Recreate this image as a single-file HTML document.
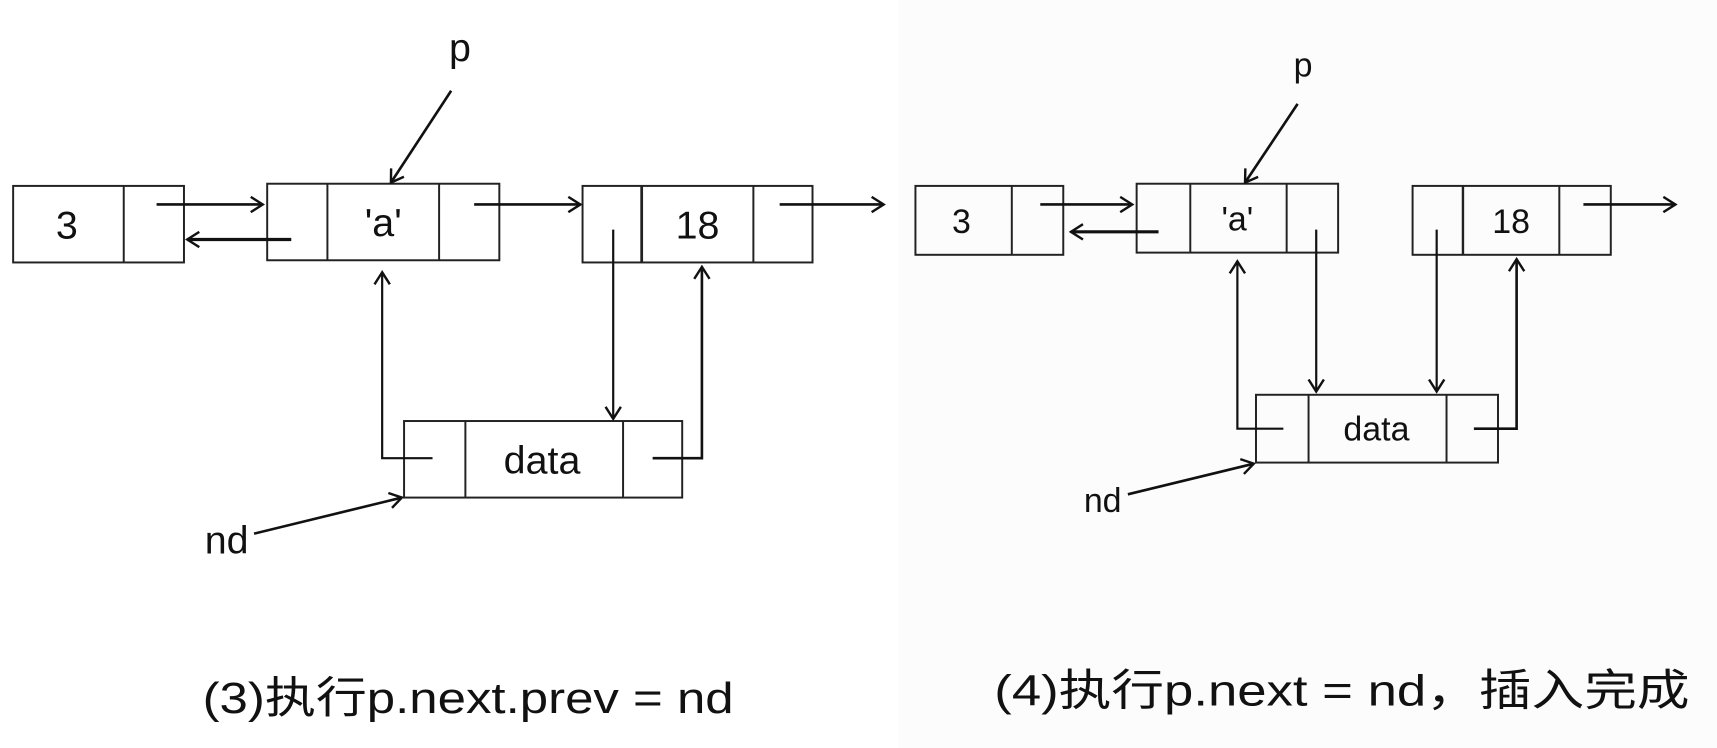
<!DOCTYPE html>
<html><head><meta charset="utf-8"><style>
html,body{margin:0;padding:0;background:#fff;width:1717px;height:748px;overflow:hidden}
svg{display:block}
text{font-family:"Liberation Sans","Noto Sans CJK SC",sans-serif;fill:#111}
</style></head><body>
<svg width="1717" height="748" viewBox="0 0 1568 684" preserveAspectRatio="none">
<defs>
<marker id="a" markerWidth="14" markerHeight="16" refX="12" refY="8" orient="auto" markerUnits="userSpaceOnUse">
<path d="M1,1 L12,8 L1,15" fill="none" stroke="#111" stroke-width="2.2"/>
</marker>
</defs>
<rect x="0" y="0" width="1568" height="684" fill="#fff"/>
<rect x="820" y="0" width="748" height="684" fill="#fcfcfc"/>
<g fill="none" stroke="#222" stroke-width="1.8">
<rect x="12" y="170" width="156" height="70"/><line x1="113" y1="170" x2="113" y2="240"/>
<rect x="244" y="168" width="212" height="70"/><line x1="299" y1="168" x2="299" y2="238"/><line x1="401" y1="168" x2="401" y2="238"/>
<rect x="532" y="170" width="210" height="70"/><line x1="586" y1="170" x2="586" y2="240" stroke-width="2.5"/><line x1="688" y1="170" x2="688" y2="240"/>
<rect x="369" y="385" width="254" height="70"/><line x1="425" y1="385" x2="425" y2="455"/><line x1="569" y1="385" x2="569" y2="455"/>
<rect x="836" y="170" width="135" height="63"/><line x1="924" y1="170" x2="924" y2="233"/>
<rect x="1038" y="168" width="184" height="63"/><line x1="1087" y1="168" x2="1087" y2="231"/><line x1="1175" y1="168" x2="1175" y2="231"/>
<rect x="1290" y="170" width="181" height="63"/><line x1="1336" y1="170" x2="1336" y2="233" stroke-width="2.2"/><line x1="1424" y1="170" x2="1424" y2="233"/>
<rect x="1147" y="361" width="221" height="62"/><line x1="1195" y1="361" x2="1195" y2="423"/><line x1="1321" y1="361" x2="1321" y2="423"/>
</g>
<g fill="none" stroke="#111" stroke-width="2.4" marker-end="url(#a)">
<line x1="143" y1="187" x2="240" y2="187"/>
<line x1="266" y1="219" x2="171" y2="219" stroke-width="3"/>
<line x1="433" y1="187" x2="530" y2="187"/>
<line x1="712" y1="187" x2="807" y2="187"/>
<line x1="412" y1="83" x2="357" y2="167"/>
<polyline points="395,419 349,419 349,249" stroke-width="2"/>
<line x1="560" y1="210" x2="560" y2="383" stroke-width="2"/>
<polyline points="596,419 641,419 641,244"/>
<line x1="232" y1="488" x2="367" y2="455"/>
<line x1="950" y1="187" x2="1034" y2="187"/>
<line x1="1058" y1="212" x2="978" y2="212" stroke-width="2.8"/>
<line x1="1446" y1="187" x2="1530" y2="187"/>
<line x1="1185" y1="95" x2="1137" y2="167"/>
<polyline points="1172,392 1130,392 1130,239" stroke-width="2"/>
<line x1="1202" y1="210" x2="1202" y2="358" stroke-width="2"/>
<line x1="1312" y1="210" x2="1312" y2="358" stroke-width="2"/>
<polyline points="1346,392 1385,392 1385,237"/>
<line x1="1030" y1="452" x2="1145" y2="424"/>
</g>
<g font-size="36" text-anchor="middle">
<text x="61" y="218">3</text>
<text x="350" y="216">'a'</text>
<text x="637" y="218">18</text>
<text x="495" y="433">data</text>
<text x="420" y="56">p</text>
<text x="207" y="506">nd</text>
</g>
<g font-size="31" text-anchor="middle">
<text x="878" y="213">3</text>
<text x="1130" y="211">'a'</text>
<text x="1380" y="213">18</text>
<text x="1257" y="403">data</text>
<text x="1190" y="70">p</text>
<text x="1007" y="468">nd</text>
</g>
<g font-size="40">
<text x="185" y="652" textLength="485" lengthAdjust="spacingAndGlyphs">(3)执行p.next.prev = nd</text>
<text x="908" y="645" textLength="635" lengthAdjust="spacingAndGlyphs">(4)执行p.next = nd，插入完成</text>
</g>
</svg>
</body></html>
